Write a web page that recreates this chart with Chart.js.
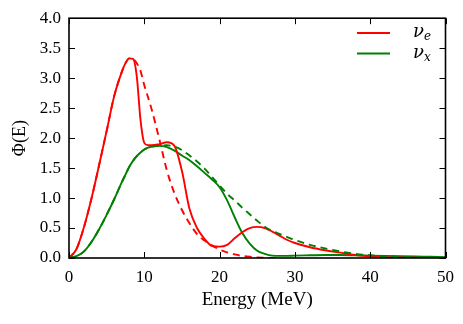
<!DOCTYPE html>
<html>
<head>
<meta charset="utf-8">
<script src="https://cdn.jsdelivr.net/npm/chart.js@4/dist/chart.umd.min.js"></script>
<style>
    html, body { margin: 0; padding: 0; background: #fff; }
    #wrap { width: 463px; height: 324px; }
</style>
</head>
<body>
<div id="wrap"><canvas id="spectrum"></canvas></div>
<script>
// Energy grid (MeV)
const energy = [0, 1, 2, 3, 4, 5, 6, 7, 7.5, 8, 8.5, 9, 9.5, 10, 10.5,
    11, 12, 13, 14, 15, 16, 17, 18, 19, 20, 21, 22, 23, 24, 25, 26, 27, 28, 29, 30,
    32, 34, 36, 38, 40, 42, 44, 46, 48, 50];

// nu_e, solid
const nueSolid = [0, 0.15, 0.52, 1.0, 1.55, 2.12, 2.7, 3.1, 3.25, 3.33, 3.32, 3.03, 2.3, 1.92, 1.88,
    1.88, 1.9, 1.93, 1.87, 1.45, 0.82, 0.5, 0.32, 0.2, 0.19, 0.22, 0.33, 0.43, 0.5, 0.52, 0.5, 0.44, 0.37, 0.3, 0.25,
    0.18, 0.13, 0.09, 0.05, 0.03, 0.015, 0.008, 0.004, 0.002, 0];

// nu_e, dashed
const nueDashed = [0, 0.15, 0.52, 1.0, 1.55, 2.12, 2.7, 3.1, 3.25, 3.33, 3.32, 3.25, 3.12, 2.88, 2.68,
    2.47, 1.98, 1.46, 1.08, 0.8, 0.58, 0.4, 0.29, 0.21, 0.14, 0.095, 0.06, 0.035, 0.02, 0.01, 0.005, 0, 0, null, null,
    null, null, null, null, null, null, null, null, null, null];

// nu_x, solid
const nuxSolid = [0, 0.03, 0.11, 0.27, 0.48, 0.72, 0.98, 1.26, 1.39, 1.52, 1.62, 1.70, 1.76, 1.81, 1.84,
    1.86, 1.87, 1.85, 1.79, 1.71, 1.63, 1.53, 1.42, 1.31, 1.18, 0.96, 0.68, 0.42, 0.24, 0.12, 0.07, 0.04, 0.035, 0.035, 0.04,
    0.045, 0.05, 0.05, 0.045, 0.04, 0.035, 0.03, 0.025, 0.02, 0.015];

// nu_x, dashed
const nuxDashed = [0, 0.03, 0.11, 0.27, 0.48, 0.72, 0.98, 1.26, 1.39, 1.52, 1.62, 1.70, 1.76, 1.81, 1.84,
    1.86, 1.87, 1.88, 1.86, 1.80, 1.71, 1.61, 1.49, 1.35, 1.21, 1.07, 0.96, 0.84, 0.73, 0.62, 0.52, 0.45, 0.40, 0.35, 0.30,
    0.22, 0.16, 0.11, 0.07, 0.045, 0.03, 0.02, 0.012, 0.006, 0.003];

const xTicks = [0, 10, 20, 30, 40, 50];
const yTicks = [0, 0.5, 1, 1.5, 2, 2.5, 3, 3.5, 4];

const legendItems = [
    { sym: 'ν', sub: 'e', color: '#ff0000' },
    { sym: 'ν', sub: 'x', color: '#008000' }
];

const SERIF = '"Liberation Serif", "DejaVu Serif", serif';
const MATH = '"DejaVu Serif", serif';

function points(vals) {
    return energy.map((e, i) => ({ x: e, y: vals[i] }));
}

// frame + inward ticks on all four sides, drawn over the curves
const framePlugin = {
    id: 'frame',
    afterDatasetsDraw(chart) {
        const { ctx, chartArea: a, scales } = chart;
        const len = 6;
        ctx.save();
        ctx.strokeStyle = '#000';
        ctx.lineWidth = 1;
        ctx.beginPath();
        xTicks.forEach(v => {
            const px = Math.round(scales.x.getPixelForValue(v)) + 0.5;
            ctx.moveTo(px, a.bottom); ctx.lineTo(px, a.bottom - len);
            ctx.moveTo(px, a.top); ctx.lineTo(px, a.top + len);
        });
        yTicks.forEach(v => {
            const py = Math.round(scales.y.getPixelForValue(v)) + 0.5;
            ctx.moveTo(a.left, py); ctx.lineTo(a.left + len, py);
            ctx.moveTo(a.right, py); ctx.lineTo(a.right - len, py);
        });
        ctx.stroke();
        ctx.lineWidth = 1.6;
        ctx.strokeRect(a.left, a.top, a.right - a.left, a.bottom - a.top);
        ctx.restore();
    }
};

const legendPlugin = {
    id: 'mathLegend',
    afterDraw(chart) {
        const { ctx } = chart;
        ctx.save();
        legendItems.forEach((item, i) => {
            const y = 33 + i * 20.5;
            ctx.strokeStyle = item.color;
            ctx.lineWidth = 1.8;
            ctx.beginPath();
            ctx.moveTo(357, y);
            ctx.lineTo(390, y);
            ctx.stroke();
            ctx.fillStyle = '#000';
            ctx.textBaseline = 'alphabetic';
            ctx.font = 'italic 18px ' + MATH;
            ctx.fillText(item.sym, 413, y + 4);
            const w = ctx.measureText(item.sym).width;
            ctx.font = 'italic 12px ' + MATH;
            ctx.fillText(item.sub, 413 + w, y + 7);
        });
        ctx.restore();
    }
};

new Chart(document.getElementById('spectrum'), {
    type: 'line',
    data: {
        datasets: [
            { label: 'nue', data: points(nueSolid), borderColor: '#ff0000', order: 1 },
            { label: 'nux', data: points(nuxSolid), borderColor: '#008000', order: 2 },
            { label: 'nue dashed', data: points(nueDashed), borderColor: '#ff0000', borderDash: [7, 5], order: 3 },
            { label: 'nux dashed', data: points(nuxDashed), borderColor: '#008000', borderDash: [7, 5], order: 0 }
        ]
    },
    options: {
        responsive: true,
        maintainAspectRatio: false,
        animation: false,
        events: [],
        layout: { padding: { top: 15, right: 17.5, left: 0, bottom: 0 } },
        elements: {
            point: { radius: 0 },
            line: { borderWidth: 1.9, cubicInterpolationMode: 'monotone', fill: false }
        },
        plugins: { legend: { display: false }, tooltip: { enabled: false } },
        scales: {
            x: {
                type: 'linear', min: 0, max: 50,
                afterFit: s => { s.height = 66; },
                afterBuildTicks: s => { s.ticks = xTicks.map(v => ({ value: v })); },
                grid: { display: false, drawTicks: false, tickLength: 0 },
                border: { display: false },
                ticks: { color: '#000', padding: 9, maxRotation: 0, font: { family: SERIF, size: 17 } },
                title: { display: true, text: 'Energy (MeV)', color: '#000',
                    padding: { top: 0, bottom: 12.6 }, font: { family: SERIF, size: 19 } }
            },
            y: {
                type: 'linear', min: 0, max: 4,
                afterFit: s => { s.width = 69; },
                afterBuildTicks: s => { s.ticks = yTicks.map(v => ({ value: v })); },
                grid: { display: false, drawTicks: false, tickLength: 0 },
                border: { display: false },
                ticks: { color: '#000', padding: 8, callback: v => v.toFixed(1), font: { family: SERIF, size: 17 } },
                title: { display: true, text: 'Φ(E)', color: '#000',
                    padding: { top: 9, bottom: 0 }, font: { family: SERIF, size: 18 } }
            }
        }
    },
    plugins: [framePlugin, legendPlugin]
});
</script>
</body>
</html>
